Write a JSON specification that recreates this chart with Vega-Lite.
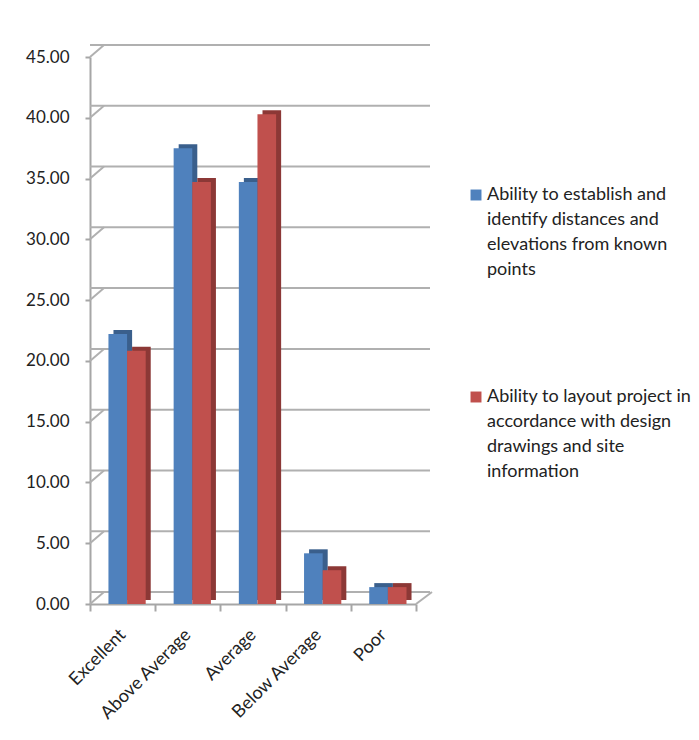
{
  "$schema": "https://vega.github.io/schema/vega-lite/v6.json",
  "width": 326,
  "height": 547,
  "autosize": {"type": "none"},
  "padding": {"left": 90, "top": 57, "right": 283, "bottom": 136},
  "background": "white",
  "config": {"view": {"stroke": null}, "font": "Lato"},
  "datasets": {
    "bars": [
      {"category": "Excellent", "series": "Ability to establish and identify distances and elevations from known points", "value": 22.22},
      {"category": "Excellent", "series": "Ability to layout project in accordance with design drawings and site information", "value": 20.83},
      {"category": "Above Average", "series": "Ability to establish and identify distances and elevations from known points", "value": 37.5},
      {"category": "Above Average", "series": "Ability to layout project in accordance with design drawings and site information", "value": 34.72},
      {"category": "Average", "series": "Ability to establish and identify distances and elevations from known points", "value": 34.72},
      {"category": "Average", "series": "Ability to layout project in accordance with design drawings and site information", "value": 40.28},
      {"category": "Below Average", "series": "Ability to establish and identify distances and elevations from known points", "value": 4.17},
      {"category": "Below Average", "series": "Ability to layout project in accordance with design drawings and site information", "value": 2.78},
      {"category": "Poor", "series": "Ability to establish and identify distances and elevations from known points", "value": 1.39},
      {"category": "Poor", "series": "Ability to layout project in accordance with design drawings and site information", "value": 1.39}
    ],
    "grid": [{"v": 0}, {"v": 5}, {"v": 10}, {"v": 15}, {"v": 20}, {"v": 25}, {"v": 30}, {"v": 35}, {"v": 40}, {"v": 45}]
  },
  "layer": [
    {
      "data": {"name": "grid"},
      "mark": {"type": "rule", "color": "#B0B0B0", "strokeWidth": 2, "xOffset": 14, "x2Offset": 16, "yOffset": -12, "y2Offset": -12},
      "encoding": {
        "y": {
          "field": "v", "type": "quantitative", "scale": {"domain": [0, 45], "nice": false},
          "axis": {
            "title": null, "values": [0, 5, 10, 15, 20, 25, 30, 35, 40, 45], "format": ".2f", "grid": false,
            "domainColor": "#A6A6A6", "domainWidth": 2, "tickColor": "#A6A6A6", "tickWidth": 2, "tickSize": 5,
            "labelFont": "Lato", "labelFontSize": 17, "labelColor": "#222222", "labelPadding": 16
          }
        }
      }
    },
    {
      "data": {"name": "grid"},
      "mark": {"type": "rule", "color": "#B0B0B0", "strokeWidth": 2, "x2Offset": 14, "y2Offset": -12},
      "encoding": {
        "x": {"datum": "Excellent", "type": "nominal", "bandPosition": 0},
        "x2": {"datum": "Excellent", "bandPosition": 0},
        "y": {"field": "v", "type": "quantitative", "title": null},
        "y2": {"field": "v"}
      }
    },
    {
      "data": {"name": "grid"},
      "transform": [{"filter": "datum.v == 0"}],
      "mark": {"type": "rule", "color": "#B0B0B0", "strokeWidth": 2, "x2Offset": 16, "y2Offset": -12},
      "encoding": {
        "x": {"datum": "Poor", "type": "nominal", "bandPosition": 1},
        "x2": {"datum": "Poor", "bandPosition": 1},
        "y": {"field": "v", "type": "quantitative", "title": null},
        "y2": {"field": "v"}
      }
    },
    {
      "data": {"name": "bars"},
      "mark": {"type": "bar", "yOffset": -4},
      "encoding": {
        "x": {"field": "category", "type": "nominal", "title": null},
        "xOffset": {"field": "series", "type": "nominal", "scale": {"paddingOuter": 0.75, "paddingInner": 0, "align": 0.84}},
        "y": {"field": "value", "type": "quantitative", "title": null},
        "fill": {"field": "series", "type": "nominal", "scale": {"range": ["#3A5F8C", "#8C3836"]}, "legend": null}
      }
    },
    {
      "data": {"name": "bars"},
      "mark": {"type": "bar"},
      "encoding": {
        "x": {
          "field": "category", "type": "nominal",
          "scale": {"domain": ["Excellent", "Above Average", "Average", "Below Average", "Poor"], "paddingInner": 0, "paddingOuter": 0},
          "axis": {
            "title": null, "domainColor": "#A6A6A6", "domainWidth": 2, "tickColor": "#A6A6A6", "tickWidth": 2, "tickSize": 7,
            "tickBand": "extent", "labelAngle": -45, "labelFont": "Lato", "labelFontSize": 18, "labelColor": "#222222", "labelPadding": 21
          }
        },
        "xOffset": {"field": "series", "type": "nominal", "scale": {"paddingOuter": 0.75, "paddingInner": 0, "align": 0.66}},
        "y": {"field": "value", "type": "quantitative", "title": null},
        "color": {
          "field": "series", "type": "nominal",
          "scale": {"range": ["#4F81BD", "#C0504D"]},
          "legend": {
            "orient": "none", "legendX": 377, "legendY": 129, "title": null,
            "symbolType": "square", "symbolSize": 120, "symbolStrokeWidth": 0,
            "labelFont": "Lato", "labelFontSize": 18, "labelColor": "#222222", "labelOffset": 2, "labelLimit": 400,
            "labelBaseline": "top", "rowPadding": 109,
            "labelExpr": "indexof(datum.label, 'establish') >= 0 ? ['Ability to establish and', 'identify distances and', 'elevations from known', 'points'] : ['Ability to layout project in', 'accordance with design', 'drawings and site', 'information']",
            "encode": {"labels": {"update": {"lineHeight": {"value": 25}, "dy": {"value": -9}}}}
          }
        }
      }
    }
  ],
  "resolve": {"scale": {"xOffset": "independent"}}
}
